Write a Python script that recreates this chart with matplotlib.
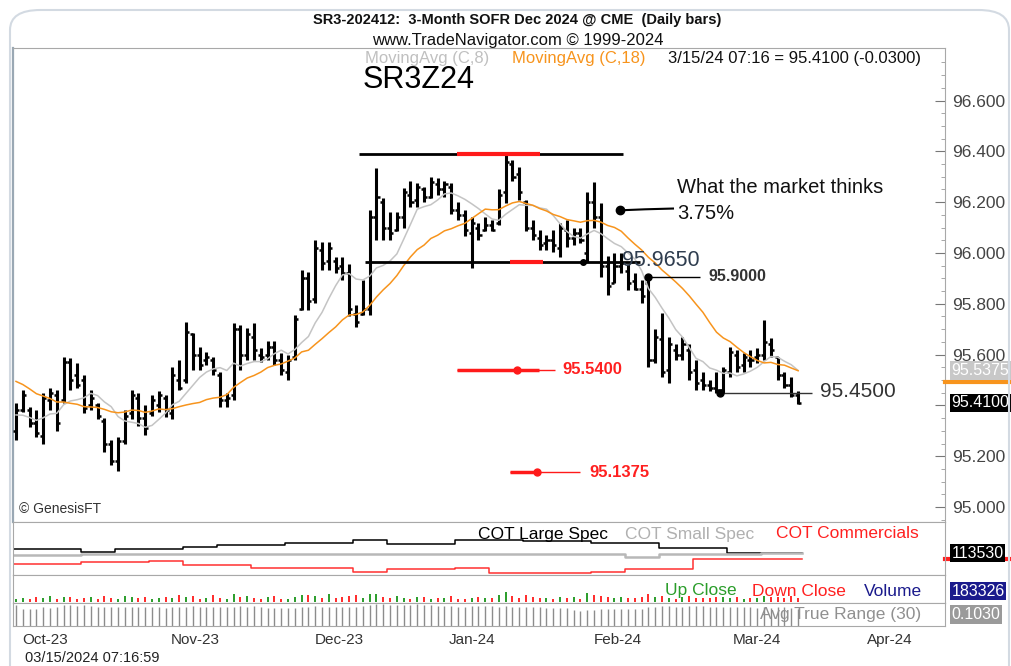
import numpy as np
import pandas as pd
import matplotlib
matplotlib.use('Agg')
import matplotlib.pyplot as plt
import matplotlib.transforms as mtransforms
from matplotlib import font_manager
from matplotlib.patches import FancyBboxPatch

# --- datos: barras diarias SR3Z24 ---
opens = [95.30, 95.38, 95.38, 95.33, 95.28, 95.42, 95.44, 95.42, 95.57, 95.52,
         95.50, 95.40, 95.40, 95.34, 95.25, 95.18, 95.26, 95.37, 95.43, 95.35,
         95.37, 95.40, 95.43, 95.37, 95.50, 95.50, 95.68, 95.60, 95.58, 95.58,
         95.52, 95.42, 95.44, 95.70, 95.60, 95.67, 95.60, 95.60, 95.63, 95.58,
         95.53, 95.59, 95.78, 95.90, 95.82, 96.01, 95.97, 95.97, 95.95, 95.92,
         95.76, 95.76, 95.78, 96.14, 96.20, 96.10, 96.09, 96.14, 96.23, 96.21,
         96.25, 96.22, 96.27, 96.25, 96.26, 96.17, 96.15, 96.08, 96.10, 96.09,
         96.11, 96.12, 96.24, 96.35, 96.31, 96.20, 96.10, 96.06, 96.04, 96.05,
         96.02, 96.09, 96.06, 96.08, 96.00, 96.20, 96.14, 95.95, 95.88, 95.95,
         95.93, 95.89, 95.86, 95.88, 95.58, 95.66, 95.54, 95.62, 95.60, 95.62,
         95.54, 95.50, 95.48, 95.47, 95.46, 95.53, 95.60, 95.56, 95.58, 95.59,
         95.60, 95.64, 95.59, 95.52, 95.48, 95.44]
highs = [95.41, 95.46, 95.395, 95.38, 95.45, 95.47, 95.46, 95.59, 95.585, 95.565,
         95.52, 95.46, 95.41, 95.35, 95.265, 95.275, 95.38, 95.46, 95.45, 95.40,
         95.44, 95.455, 95.44, 95.55, 95.58, 95.73, 95.685, 95.63, 95.61, 95.59,
         95.53, 95.45, 95.725, 95.715, 95.705, 95.725, 95.625, 95.655, 95.655, 95.605,
         95.60, 95.755, 95.935, 95.925, 96.05, 96.045, 96.045, 95.985, 95.985, 95.955,
         95.795, 95.895, 96.17, 96.335, 96.215, 96.16, 96.16, 96.255, 96.285, 96.275,
         96.26, 96.30, 96.295, 96.285, 96.275, 96.20, 96.17, 96.14, 96.12, 96.14,
         96.13, 96.25, 96.395, 96.365, 96.34, 96.21, 96.13, 96.09, 96.07, 96.09,
         96.12, 96.13, 96.10, 96.10, 96.24, 96.28, 96.195, 95.99, 96.00, 96.00,
         95.955, 95.92, 95.895, 95.90, 95.70, 95.765, 95.67, 95.64, 95.67, 95.64,
         95.58, 95.53, 95.50, 95.53, 95.55, 95.63, 95.62, 95.605, 95.62, 95.625,
         95.735, 95.665, 95.59, 95.53, 95.51, 95.455]
lows = [95.265, 95.375, 95.315, 95.275, 95.25, 95.38, 95.30, 95.41, 95.46, 95.47,
        95.37, 95.38, 95.345, 95.215, 95.165, 95.14, 95.25, 95.345, 95.32, 95.285,
        95.36, 95.375, 95.355, 95.345, 95.46, 95.49, 95.54, 95.54, 95.56, 95.52,
        95.395, 95.395, 95.42, 95.54, 95.58, 95.58, 95.57, 95.58, 95.56, 95.52,
        95.50, 95.58, 95.775, 95.775, 95.805, 95.935, 95.935, 95.92, 95.895, 95.75,
        95.71, 95.755, 95.755, 96.05, 96.05, 96.05, 96.085, 96.10, 96.18, 96.18,
        96.20, 96.215, 96.23, 96.22, 96.155, 96.13, 96.065, 95.94, 96.05, 96.085,
        96.085, 96.11, 96.195, 96.285, 96.21, 96.085, 96.05, 96.01, 96.01, 96.005,
        95.985, 96.025, 96.03, 96.04, 95.965, 96.10, 95.905, 95.835, 95.88, 95.92,
        95.855, 95.855, 95.805, 95.55, 95.565, 95.51, 95.49, 95.58, 95.58, 95.50,
        95.46, 95.46, 95.455, 95.45, 95.45, 95.51, 95.53, 95.53, 95.55, 95.565,
        95.58, 95.59, 95.50, 95.47, 95.435, 95.405]
closes = [95.38, 95.44, 95.33, 95.29, 95.43, 95.45, 95.33, 95.57, 95.50, 95.48,
          95.39, 95.43, 95.36, 95.25, 95.18, 95.26, 95.36, 95.44, 95.35, 95.31,
          95.42, 95.44, 95.38, 95.52, 95.47, 95.69, 95.60, 95.56, 95.59, 95.54,
          95.42, 95.43, 95.70, 95.60, 95.68, 95.62, 95.59, 95.63, 95.58, 95.54,
          95.58, 95.74, 95.90, 95.81, 96.02, 95.96, 96.02, 95.94, 95.92, 95.78,
          95.73, 95.78, 96.14, 96.22, 96.10, 96.08, 96.14, 96.24, 96.20, 96.26,
          96.22, 96.28, 96.25, 96.27, 96.17, 96.15, 96.09, 96.12, 96.07, 96.11,
          96.09, 96.23, 96.36, 96.30, 96.24, 96.10, 96.07, 96.03, 96.05, 96.03,
          96.10, 96.06, 96.08, 96.05, 96.20, 96.14, 95.95, 95.87, 95.95, 95.96,
          95.88, 95.86, 95.83, 95.58, 95.67, 95.53, 95.64, 95.60, 95.64, 95.53,
          95.49, 95.48, 95.47, 95.46, 95.54, 95.61, 95.55, 95.59, 95.58, 95.60,
          95.65, 95.62, 95.52, 95.48, 95.44, 95.41]
# cierres previos (solo para arrancar las medias moviles)
warmup_closes = [95.66, 95.64, 95.63, 95.60, 95.62, 95.58, 95.57, 95.59, 95.55,
                 95.56, 95.45, 95.40, 95.38, 95.35, 95.33, 95.31, 95.30]

volume = [42, 55, 38, 61, 47, 72, 40, 66, 58, 35,
          49, 63, 44, 80, 52, 39, 70, 57, 46, 61,
          38, 52, 67, 45, 88, 60, 74, 41, 56, 83,
          48, 39, 95, 62, 71, 50, 43, 58, 77, 40,
          35, 60, 86, 92, 70, 55, 98, 48, 63, 74,
          82, 50, 105, 96, 60, 47, 72, 53, 44, 58,
          66, 39, 48, 52, 71, 43, 37, 50, 62, 54,
          45, 84, 118, 70, 56, 93, 61, 47, 55, 42,
          68, 49, 57, 44, 110, 86, 75, 58, 46, 64,
          52, 48, 67, 102, 60, 77, 55, 43, 59, 71,
          50, 46, 53, 68, 57, 49, 62, 44, 51, 56,
          80, 58, 63, 47, 72, 55]

# COT semanal (una cifra por semana de 5 barras)
cot_large = [125500, 125500, 116500, 125500, 125500, 131500, 137500, 137500,
             143500, 143500, 152500, 140500, 140500, 152500, 152500, 149500,
             149500, 143500, 143500, 128500, 128500, 113530, 113530, 113530]
cot_small = [108000, 108000, 109500, 110500, 110500, 110000, 110500, 111000,
             111000, 110500, 111500, 110500, 110000, 111000, 111500, 112000,
             111500, 111000, 103000, 110000, 111000, 112000, 112500, 112500]
cot_comm = [80500, 80500, 86500, 86500, 89500, 77500, 77500, 68500,
            68500, 68500, 56500, 65500, 65500, 68500, 53500, 53500,
            53500, 56500, 65500, 65500, 95500, 95500, 95500, 95500]

month_ticks = [4.3, 26.3, 47.6, 67.1, 88.5, 108.9, 128.5]
month_labels = ['Oct-23', 'Nov-23', 'Dec-23', 'Jan-24', 'Feb-24', 'Mar-24', 'Apr-24']
price_ticks = [95.0, 95.2, 95.4, 95.6, 95.8, 96.0, 96.2, 96.4, 96.6]

# --- fuentes ---
names = {f.name for f in font_manager.fontManager.ttflist}
BASE = 'Liberation Sans' if 'Liberation Sans' in names else 'DejaVu Sans'
plt.rcParams['font.family'] = [BASE, 'DejaVu Sans']

W, H = 1011, 666
fig = plt.figure(figsize=(W / 100, H / 100), dpi=100)
fig.patch.set_facecolor('white')


def fx(px):
    return px / W


def fy(py):
    return 1 - py / H


def add_panel(x0, y0, x1, y1):
    a = fig.add_axes([fx(x0), fy(y1), fx(x1) - fx(x0), fy(y0) - fy(y1)])
    for s in a.spines.values():
        s.set_color('#a8a8a8')
    return a


ax = add_panel(13, 48, 945, 522)
ax_cot = add_panel(13, 522, 945, 575)
ax_vol = add_panel(13, 575, 945, 603)
ax_atr = add_panel(13, 603, 945, 626)
ax.spines['left'].set_color('#9aa8b4')
ax.spines['left'].set_linewidth(1.6)

n = len(closes)
idx = np.arange(n)
o = np.array(opens); h = np.array(highs); l = np.array(lows); c = np.array(closes)
XL = (-0.44, 136.6)

# --- precio ---
ax.vlines(idx, l, h, color='black', lw=2.2, zorder=3)
ax.hlines(o, idx - 0.45, idx, color='black', lw=1.8, zorder=3)
ax.hlines(c, idx, idx + 0.45, color='black', lw=1.8, zorder=3)

s_all = pd.Series(warmup_closes + closes)
ma8 = s_all.rolling(8).mean().iloc[len(warmup_closes):].values
ma18 = s_all.rolling(18).mean().iloc[len(warmup_closes):].values
ax.plot(idx, ma8, color='#c4c4c4', lw=1.1, zorder=4)
ax.plot(idx, ma18, color='#f7941d', lw=1.1, zorder=4)

ax.set_xlim(*XL)
ax.set_ylim(94.941, 96.807)
ax.yaxis.tick_right()
ax.set_yticks(price_ticks)
# la etiqueta 95.400 queda tapada por la caja del ultimo precio
ax.set_yticklabels(['' if abs(v - 95.4) < 1e-9 else f'{v:.3f}' for v in price_ticks])
ax.set_yticks(np.arange(94.95, 96.8, 0.05), minor=True)
ax.tick_params(axis='y', which='major', direction='in', length=7, color='#777',
               labelsize=12.5, labelcolor='#444', pad=5)
ax.tick_params(axis='y', which='minor', direction='in', length=3, color='#999')
ax.set_xticks([])

# niveles dibujados
ax.hlines(96.39, 50.5, 89.2, color='black', lw=2, zorder=5)
ax.hlines(96.39, 64.9, 77.1, color='#ff1a1a', lw=3, zorder=6)
ax.hlines(95.965, 51.3, 91.8, color='black', lw=2, zorder=5)
ax.hlines(95.965, 72.6, 77.5, color='#ff1a1a', lw=3, zorder=6)
ax.plot([83.4], [95.965], 'o', color='black', ms=4, zorder=6)
ax.text(89.1, 95.972, '95.9650', fontsize=15.5, color='#2f3d4f', va='center', ha='left', zorder=7)

ax.hlines(95.905, 93.0, 100.6, color='black', lw=1, zorder=5)
ax.plot([93.0], [95.905], 'o', color='black', ms=5, zorder=6)
ax.text(101.8, 95.906, '95.9000', fontsize=11.5, weight='bold', color='#333', va='center')

ax.hlines(95.45, 103.5, 117.0, color='#333', lw=1, zorder=5)
ax.plot([103.5], [95.45], 'o', color='black', ms=5, zorder=6)
ax.text(118.2, 95.455, '95.4500', fontsize=15, color='#333', va='center')

ax.hlines(95.54, 64.9, 79.3, color='#ff1a1a', lw=1, zorder=5)
ax.hlines(95.54, 64.9, 76.9, color='#ff1a1a', lw=2.5, zorder=5)
ax.plot([73.7], [95.54], 'o', color='#ff1a1a', ms=5, zorder=6)
ax.text(80.3, 95.54, '95.5400', fontsize=12, weight='bold', color='#ff2020', va='center')

ax.hlines(95.1375, 72.6, 82.9, color='#ff1a1a', lw=1, zorder=5)
ax.hlines(95.1375, 72.6, 77.1, color='#ff1a1a', lw=2.5, zorder=5)
ax.plot([76.6], [95.1375], 'o', color='#ff1a1a', ms=5, zorder=6)
ax.text(84.3, 95.1375, '95.1375', fontsize=12, weight='bold', color='#ff2020', va='center')

ax.text(97.2, 96.256, 'What the market thinks', fontsize=14.5, color='#111', va='center')
ax.text(97.2, 96.157, '3.75%', fontsize=14.5, color='#111', va='center')
ax.plot([96.6, 92.5, 88.8], [96.175, 96.172, 96.168], color='black', lw=1.5, zorder=6)
ax.plot([88.8], [96.168], 'o', color='black', ms=6, zorder=6)

ax.text(50.9, 96.68, 'SR3Z24', fontsize=22, color='black', va='center')
ax.text(0.006, 0.018, '\u00a9 GenesisFT', transform=ax.transAxes, fontsize=10, color='#333')

# cajas de precio a la derecha
tr_main = mtransforms.blended_transform_factory(ax.transAxes, ax.transData)
ax.plot([1.0, 1.08], [ma18[-1] - 0.045] * 2, transform=tr_main, color='#f7941d', lw=3,
        clip_on=False, zorder=8)
ax.text(1.007, ma8[-1], f'{ma8[-1]:.4f}', transform=tr_main, fontsize=11.5,
        color='white', va='center', ha='left', clip_on=False, zorder=9,
        bbox=dict(facecolor='#c8c8c8', edgecolor='none', pad=1.2))
ax.text(1.007, closes[-1], f'{closes[-1]:.4f}', transform=tr_main, fontsize=11.5,
        color='white', va='center', ha='left', clip_on=False, zorder=9,
        bbox=dict(facecolor='black', edgecolor='none', pad=1.2))

# --- COT ---
wk_x = [w * 5 - 0.5 for w in range(len(cot_large))] + [n - 0.5]
ax_cot.step(wk_x, cot_large + [cot_large[-1]], where='post', color='black', lw=1.1)
ax_cot.step(wk_x, cot_small + [cot_small[-1]], where='post', color='#b8b8b8', lw=1.8)
ax_cot.step(wk_x, cot_comm + [cot_comm[-1]], where='post', color='#ff3030', lw=1.1)
ax_cot.set_xlim(*XL)
ax_cot.set_ylim(47530, 206530)
ax_cot.set_xticks([]); ax_cot.set_yticks([])
tr_cot = mtransforms.blended_transform_factory(ax_cot.transAxes, ax_cot.transData)
ax_cot.plot([1.0, 1.08], [cot_comm[-1]] * 2, transform=tr_cot, color='#ff2020', lw=3, clip_on=False)
ax_cot.text(1.007, cot_large[-1], f'{cot_large[-1]}', transform=tr_cot, fontsize=11.5,
            color='white', va='center', ha='left', clip_on=False,
            bbox=dict(facecolor='black', edgecolor='none', pad=1.2))

# --- volumen ---
prev_c = np.r_[warmup_closes[-1], c[:-1]]
vol_cols = np.where(c >= prev_c, '#2a9d2a', '#ff2a2a')
ax_vol.vlines(idx, 0, volume, colors=vol_cols, lw=1.4)
ax_vol.set_xlim(*XL)
ax_vol.set_ylim(-10, 330)
ax_vol.set_xticks([]); ax_vol.set_yticks([])
ax_vol.text(1.007, 0.42, '183326', transform=ax_vol.transAxes, fontsize=11.5,
            color='white', va='center', ha='left', clip_on=False,
            bbox=dict(facecolor='#1a1a8c', edgecolor='none', pad=1.2))

# --- ATR (30) ---
true_range = np.maximum(h - l, np.maximum(np.abs(h - prev_c), np.abs(l - prev_c)))
atr = pd.Series(true_range).rolling(30, min_periods=1).mean().values
ax_atr.vlines(idx, 0, atr, color='#8c8c8c', lw=1)
ax_atr.set_xlim(*XL)
ax_atr.set_ylim(0, atr.max() * 1.05)
ax_atr.set_yticks([])
ax_atr.set_xticks(month_ticks)
ax_atr.set_xticklabels(month_labels)
ax_atr.tick_params(axis='x', length=0, labelsize=11, labelcolor='#333', pad=5)
ax_atr.text(1.007, 0.5, '0.1030', transform=ax_atr.transAxes, fontsize=11.5,
            color='white', va='center', ha='left', clip_on=False,
            bbox=dict(facecolor='#9a9a9a', edgecolor='none', pad=1.2))

# --- textos de cabecera y leyendas ---
fig.text(fx(517), fy(20), 'SR3-202412:  3-Month SOFR Dec 2024 @ CME  (Daily bars)',
         ha='center', va='center', fontsize=10.5, weight='bold', color='#111')
fig.text(fx(518), fy(40), 'www.TradeNavigator.com \u00a9 1999-2024',
         ha='center', va='center', fontsize=12, color='#111')
fig.text(fx(365), fy(59), 'MovingAvg (C,8)', ha='left', va='center', fontsize=12, color='#c0c0c0')
fig.text(fx(512), fy(59), 'MovingAvg (C,18)', ha='left', va='center', fontsize=12, color='#f7941d')
fig.text(fx(668), fy(59), '3/15/24 07:16 = 95.4100 (-0.0300)', ha='left', va='center',
         fontsize=12, color='#111')

fig.text(fx(478), fy(534), 'COT Large Spec', ha='left', va='center', fontsize=12.5, color='black')
fig.text(fx(625), fy(534), 'COT Small Spec', ha='left', va='center', fontsize=12.5, color='#b0b0b0')
fig.text(fx(776), fy(534), 'COT Commercials', ha='left', va='center', fontsize=12.5, color='#ff2020')
fig.text(fx(665), fy(591), 'Up Close', ha='left', va='center', fontsize=12.5, color='#2a9d2a')
fig.text(fx(752), fy(591), 'Down Close', ha='left', va='center', fontsize=12.5, color='#ff2020')
fig.text(fx(864), fy(591), 'Volume', ha='left', va='center', fontsize=12.5, color='#1a1a8c')
fig.text(fx(760), fy(614), 'Avg True Range (30)', ha='left', va='center', fontsize=12.5, color='#909090')

fig.text(fx(25), fy(658), '03/15/2024 07:16:59', ha='left', va='center', fontsize=10.5, color='#222')

# marco redondeado exterior
frame = FancyBboxPatch((fx(10), fy(700)), fx(1009) - fx(10), fy(10) - fy(700),
                       boxstyle='round,pad=0,rounding_size=0.03', transform=fig.transFigure,
                       facecolor='none', edgecolor='#d3dae2', lw=1.5, clip_on=False)
fig.patches.append(frame)

fig.savefig('out.png', dpi=100, facecolor='white')
